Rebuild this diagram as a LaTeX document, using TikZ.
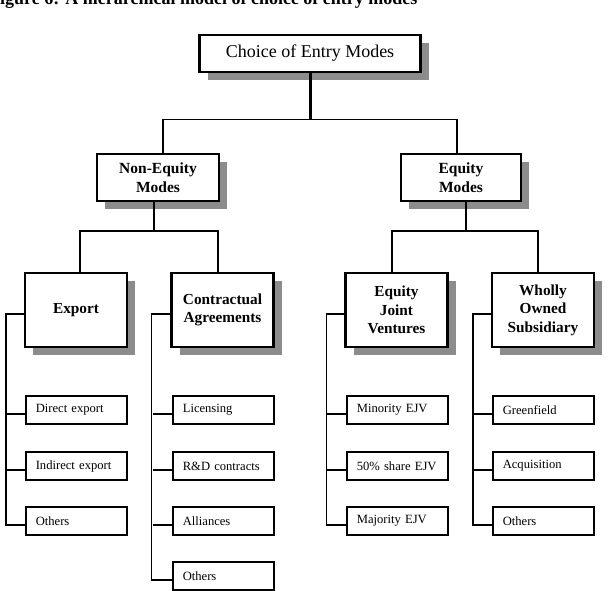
\documentclass[tikz,border=0pt]{standalone}
\usepackage{fontspec}
\setmainfont{Liberation Serif}
\usetikzlibrary{shadows}
\begin{document}
\begin{tikzpicture}[x=1pt,y=-1pt,
  shadowed/.style={drop shadow={shadow xshift=8pt,shadow yshift=-8pt,fill=black!45,opacity=1}},
  topbox/.style={draw,line width=2.8pt,fill=white,shadowed,minimum width=221pt,minimum height=37pt,inner sep=0pt,font=\fontsize{18}{20}\selectfont},
  midbox/.style={draw,line width=2.5pt,fill=white,shadowed,minimum height=47pt,inner sep=0pt,align=center,font=\bfseries\fontsize{15.5}{19}\selectfont},
  catbox/.style={draw,line width=2.3pt,fill=white,shadowed,minimum width=102pt,minimum height=74pt,inner sep=0pt,align=center,font=\bfseries\fontsize{15.3}{18.5}\selectfont},
  leaf/.style={draw,line width=1.6pt,fill=white,text width=81pt,inner xsep=10pt,inner ysep=0pt,minimum height=28pt,align=left,anchor=west,font=\fontsize{12.6}{14}\selectfont},
  conn/.style={line width=1.6pt},
  midconn/.style={line width=2.4pt},
  thickconn/.style={line width=3pt}]
\useasboundingbox (0,0) rectangle (608,591);
\begin{scope}
\clip (0,0) rectangle (608,591);
\node[anchor=base west,inner sep=0pt,font=\bfseries\fontsize{18}{20}\selectfont] (title) at (-11,5) {Figure 6: A hierarchical model of choice of entry modes};
\end{scope}

\node[topbox] (top) at (310,53.5) {Choice of Entry Modes};
\node[midbox,minimum width=122pt] (ne) at (158,177.5) {Non-Equity\\Modes};
\node[midbox,minimum width=120pt] (eq) at (461,177.5) {Equity\\Modes};
\node[catbox] (ex) at (76,310) {Export};
\node[catbox] (ca) at (222.5,310) {Contractual\\Agreements};
\node[catbox] (ejv) at (396.5,310) {Equity\\Joint\\Ventures};
\node[catbox] (wos) at (543,310) {Wholly\\Owned\\Subsidiary};

\node[leaf] (ex1) at (25,410) {Direct export};
\node[leaf] (ex2) at (25,466) {Indirect export};
\node[leaf] (ex3) at (25,521) {Others};
\node[leaf] (ca1) at (172,410) {Licensing};
\node[leaf] (ca2) at (172,466) {R\&D contracts};
\node[leaf] (ca3) at (172,521) {Alliances};
\node[leaf] (ca4) at (172,576) {Others};
\node[leaf] (ej1) at (346,410) {Minority EJV};
\node[leaf] (ej2) at (346,466) {50\% share EJV};
\node[leaf] (ej3) at (346,521) {Majority EJV};
\node[leaf] (wo1) at (492,410) {Greenfield};
\node[leaf] (wo2) at (492,466) {Acquisition};
\node[leaf] (wo3) at (492,521) {Others};

\draw[thickconn] (top.south) -- ++(0,46) coordinate (j0);
\draw[conn] ([xshift=5pt]ne.north) |- (j0);
\draw[conn] ([xshift=-4pt]eq.north) |- (j0);
\draw[midconn] ([xshift=-4pt]ne.south) -- ++(0,29) coordinate (j1);
\draw[conn] ([xshift=4pt]ex.north) |- (j1);
\draw[conn] ([xshift=-4.5pt]ca.north) |- (j1);
\draw[midconn] ([xshift=5pt]eq.south) -- ++(0,29) coordinate (j2);
\draw[conn] ([xshift=-4.5pt]ejv.north) |- (j2);
\draw[conn] ([xshift=-5pt]wos.north) |- (j2);

\draw[conn] ([yshift=-4pt]ex.west) -- ++(-18,0) |- ([yshift=-4pt]ex3.west);
\draw[conn] ([yshift=-4pt]ex1.west) -- ++(-18,0);
\draw[conn] ([yshift=-4pt]ex2.west) -- ++(-18,0);
\draw[conn] ([yshift=-4pt]ca.west) -- ++(-19,0) |- ([yshift=-4pt]ca4.west);
\draw[conn] ([yshift=-4pt]ca1.west) -- ++(-19,0);
\draw[conn] ([yshift=-4pt]ca2.west) -- ++(-19,0);
\draw[conn] ([yshift=-4pt]ca3.west) -- ++(-19,0);
\draw[conn] ([yshift=-4pt]ejv.west) -- ++(-18,0) |- ([yshift=-4pt]ej3.west);
\draw[conn] ([yshift=-4pt]ej1.west) -- ++(-19,0);
\draw[conn] ([yshift=-4pt]ej2.west) -- ++(-19,0);
\draw[conn] ([yshift=-4pt]wos.west) -- ++(-18,0) |- ([yshift=-4pt]wo3.west);
\draw[conn] ([yshift=-4pt]wo1.west) -- ++(-18,0);
\draw[conn] ([yshift=-4pt]wo2.west) -- ++(-18,0);
\end{tikzpicture}
\end{document}
